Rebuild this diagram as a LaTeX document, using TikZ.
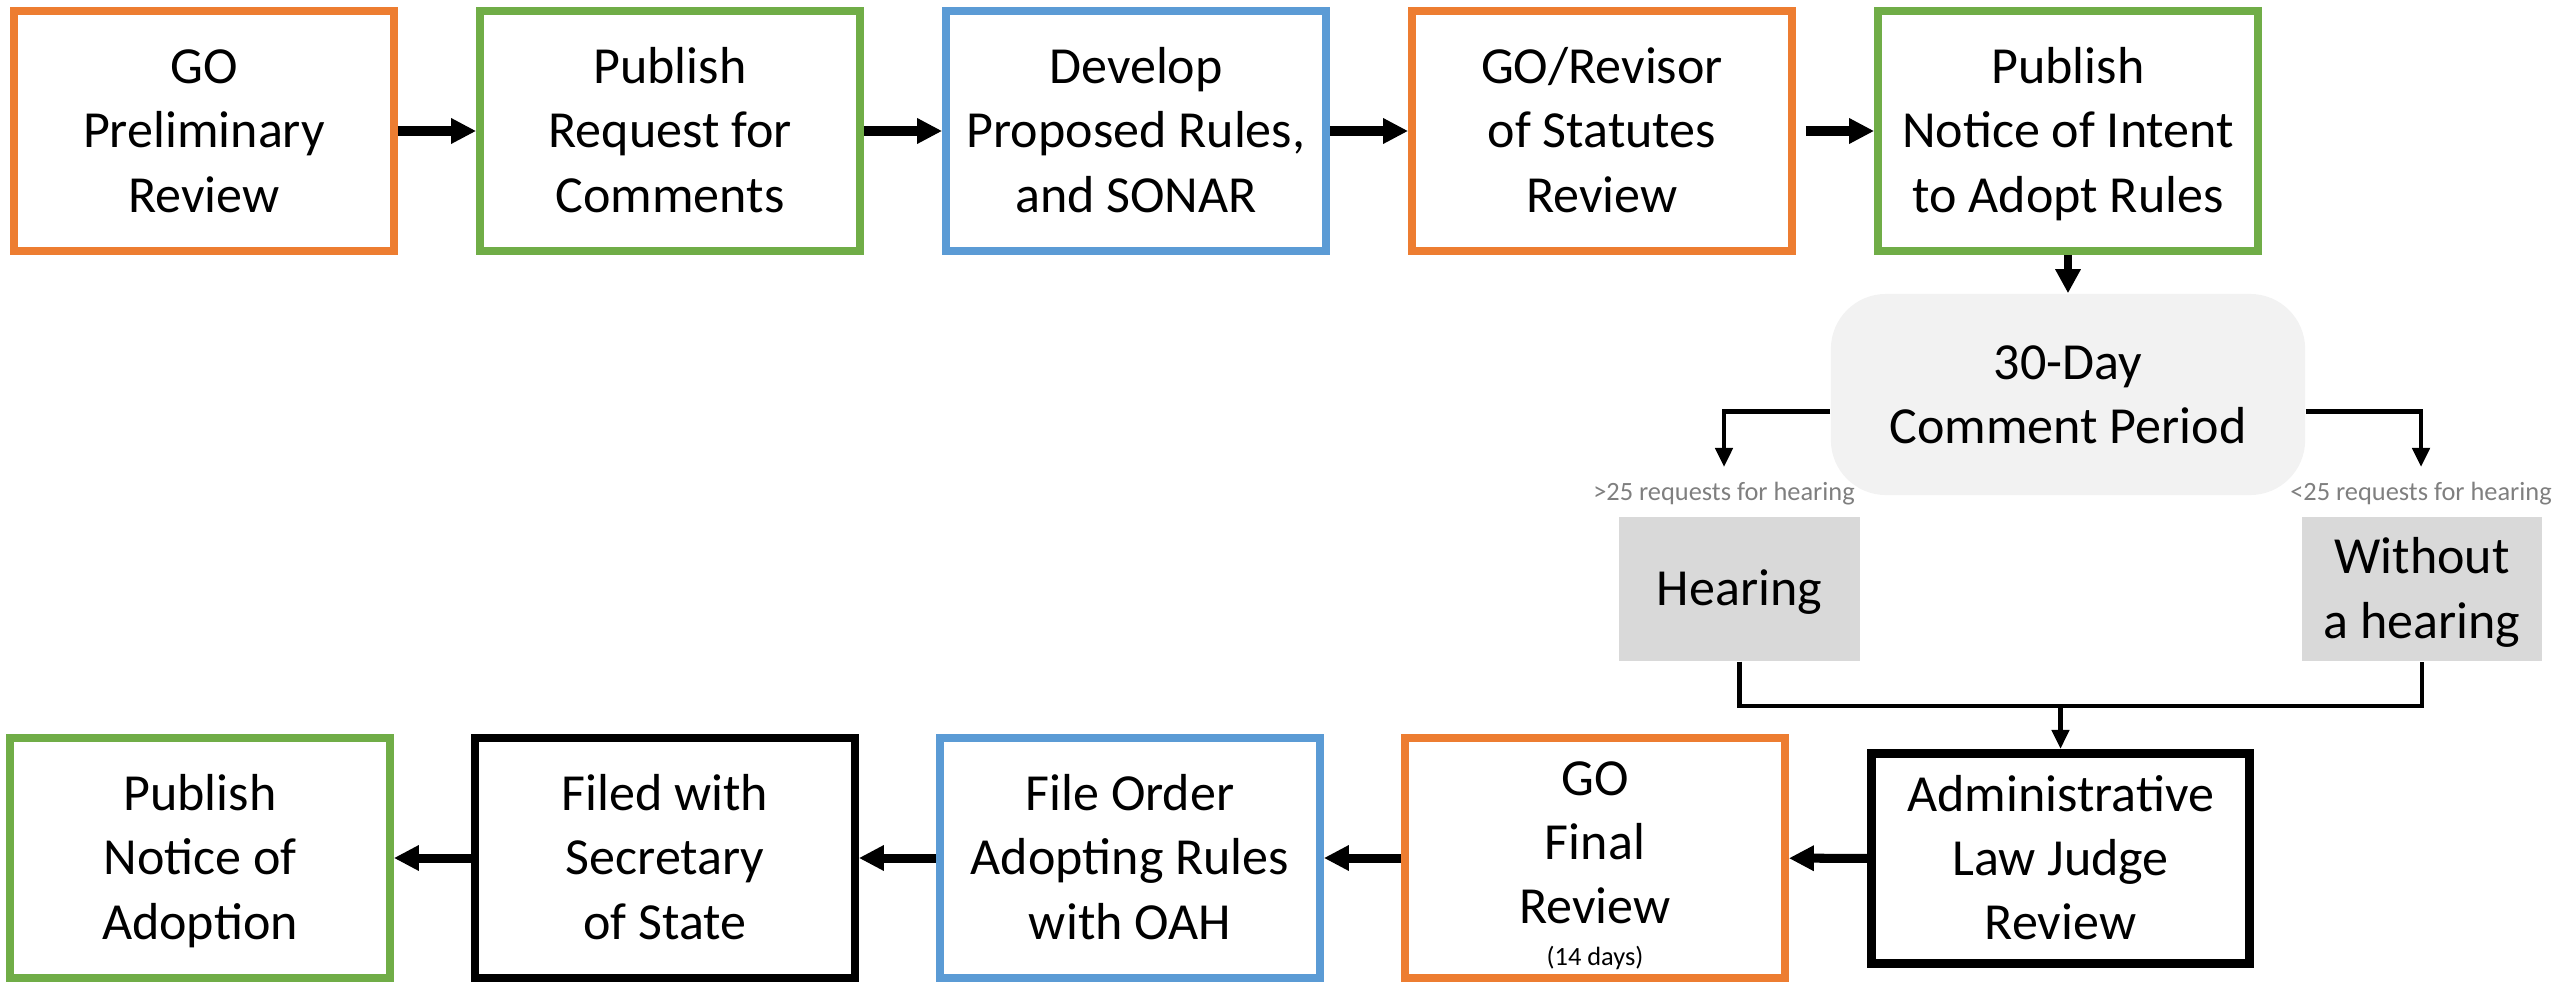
\documentclass[tikz,border=0pt]{standalone}
\usepackage{fontspec}
\setmainfont{Carlito}
\usetikzlibrary{arrows.meta}

\definecolor{goorange}{HTML}{ED7D31}
\definecolor{pubgreen}{HTML}{70AD47}
\definecolor{devblue}{HTML}{5B9BD5}
\definecolor{periodgray}{HTML}{F2F2F2}
\definecolor{hearinggray}{HTML}{D9D9D9}
\definecolor{notegray}{HTML}{7F7F7F}

\newcommand{\boxfont}{\fontsize{14.8}{18.3}\selectfont}
\newcommand{\notefont}{\fontsize{7.5}{9}\selectfont}
\newcommand{\up}{\rule{0pt}{12.6pt}}

\begin{document}
\begin{tikzpicture}[x=0.01cm, y=-0.01cm,
    stage/.style={draw, line width=0.075cm, minimum width=3.80cm, minimum height=2.40cm, inner sep=0pt, align=center, font=\boxfont, execute at end node={\rule[-3pt]{0pt}{3pt}}},
    judge/.style={stage, line width=0.09cm, minimum width=3.78cm, minimum height=2.10cm},
    period/.style={fill=periodgray, rounded corners=0.55cm, minimum width=4.74cm, minimum height=2.01cm, inner sep=0pt, align=center, font=\boxfont, execute at end node={\rule[-3pt]{0pt}{3pt}}},
    hearbox/.style={fill=hearinggray, minimum width=2.40cm, minimum height=1.44cm, inner sep=0pt, align=center, font=\boxfont, execute at end node={\rule[-3pt]{0pt}{3pt}}},
    note/.style={text=notegray, font=\notefont, inner xsep=0pt, inner ysep=4pt},
    bigarrow/.style={line width=0.09cm, -{Triangle[length=0.25cm,width=0.24cm]}},
    downarrow/.style={line width=0.08cm, -{Triangle[length=0.24cm,width=0.24cm]}},
    thinarrow/.style={line width=0.045cm, -{Triangle[length=0.19cm,width=0.17cm]}},
    thinline/.style={line width=0.045cm}]
  \useasboundingbox (0,0) rectangle (2554,982);

  % top row
  \node[stage, draw=goorange] (gopre) at (204,131) {\up GO\\Preliminary\\Review};
  \node[stage, draw=pubgreen] (pubrfc) at (670,131) {\up Publish\\Request for\\Comments};
  \node[stage, draw=devblue] (devrules) at (1136,131) {\up Develop\\Proposed Rules,\\and SONAR};
  \node[stage, draw=goorange] (revisor) at (1602,131) {\up GO/Revisor\\of Statutes\\Review};
  \node[stage, draw=pubgreen] (pubnoi) at (2068,131) {\up Publish\\Notice of Intent\\to Adopt Rules};
  \draw[bigarrow] (gopre) -- (pubrfc);
  \draw[bigarrow] (pubrfc) -- (devrules);
  \draw[bigarrow] (devrules) -- (revisor);
  \draw[bigarrow] ([xshift=0.1cm]revisor.east) -- (pubnoi);

  % comment period and the two ways on
  \node[period] (period) at (2068,394.5) {\up 30-Day\\Comment Period};
  \draw[downarrow] (pubnoi) -- (period);
  \node[note, anchor=north] (morereq) at (1724,467) {>25 requests for hearing};
  \node[note, anchor=north] (lessreq) at (2421,467) {<25 requests for hearing};
  \draw[thinarrow] ([yshift=-0.17cm]period.west) -| (morereq.north);
  \draw[thinarrow] ([yshift=-0.17cm]period.east) -| (lessreq.north);
  \node[hearbox] (hearing) at (1739.5,589) {\up Hearing};
  \node[hearbox] (nohearing) at (2422,589) {\up Without\\a hearing};

  % bottom row
  \node[judge] (alj) at (2060.5,858.5) {\up Administrative\\Law Judge\\Review};
  \node[stage, draw=goorange] (gofinal) at (1595,858) {\rule{0pt}{15.7pt}GO\\Final\\Review\\[-6.5pt]{\notefont(14 days)}};
  \node[stage, draw=devblue] (fileorder) at (1130,858) {\up File Order\\Adopting Rules\\with OAH};
  \node[stage, draw=black] (filed) at (665,858) {\up Filed with\\Secretary\\of State};
  \node[stage, draw=pubgreen] (pubadopt) at (200,858) {\up Publish\\Notice of\\Adoption};

  \coordinate (merge) at (2060.5,706);
  \draw[thinline] (hearing.south) |- (merge) -| (nohearing.south);
  \draw[thinarrow] (merge) -- (alj);
  \draw[bigarrow] (alj) -- (gofinal);
  \draw[bigarrow] (gofinal) -- (fileorder);
  \draw[bigarrow] (fileorder) -- (filed);
  \draw[bigarrow] (filed) -- (pubadopt);
\end{tikzpicture}
\end{document}
